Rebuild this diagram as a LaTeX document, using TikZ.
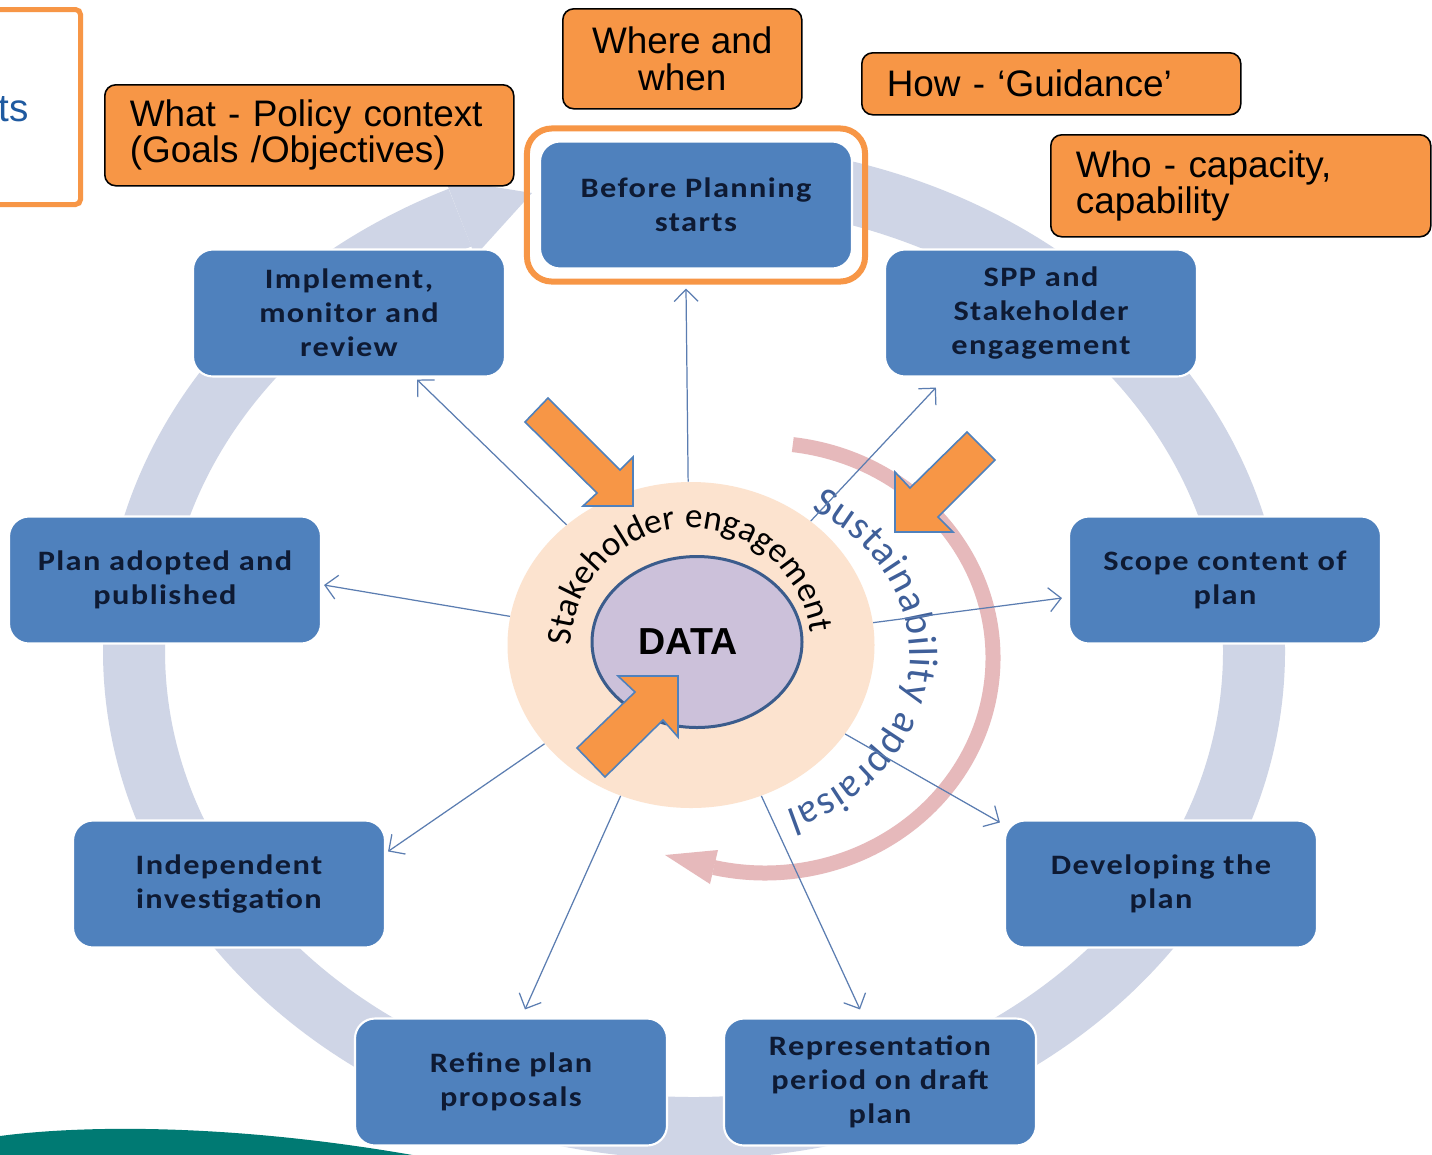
\documentclass[tikz,border=0pt]{standalone}
\usepackage{fontspec}
\setmainfont{Liberation Sans}
\newfontfamily\stagefont[FakeStretch=1.15,LetterSpace=5]{Carlito}
\newfontfamily\ringfont{Carlito}
\usetikzlibrary{arrows.meta,shapes.geometric,calc,fit,decorations.text}

\definecolor{stageblue}{HTML}{4F81BD}
\definecolor{stageink}{HTML}{0E1A33}
\definecolor{noteorange}{HTML}{F79646}
\definecolor{ringgray}{HTML}{CFD5E6}
\definecolor{linkblue}{HTML}{5B7DB1}
\definecolor{peach}{HTML}{FCE3CF}
\definecolor{datalilac}{HTML}{CCC1DA}
\definecolor{dataedge}{HTML}{3B5C8C}
\definecolor{sustblue}{HTML}{3F5F99}
\definecolor{cyclepink}{HTML}{E6B9BB}
\definecolor{wave}{HTML}{007A73}
\definecolor{cutblue}{HTML}{1F5AA0}

\begin{document}
\begin{tikzpicture}[
  x=0.2mm, y=-0.2mm,
  stage/.style={rectangle, rounded corners=0.4cm, fill=stageblue, draw=white, line width=1.2pt,
    minimum width=6.24cm, minimum height=2.54cm, align=center, text=stageink,
    font=\stagefont\bfseries\fontsize{16}{19.35}\selectfont},
  note/.style={rectangle, rounded corners=0.22cm, fill=noteorange, draw=black, line width=0.9pt,
    anchor=north west, align=left, inner xsep=0.5cm, font=\fontsize{21}{20.5}\selectfont},
  arrow/.style={-{Straight Barb[length=2.4mm, width=4.8mm]}, draw=linkblue, line width=0.7pt},
  pointer/.style={fill=noteorange, draw=stageblue, line width=0.9pt, line join=miter}
]

\fill[white] (0,0) rectangle (1432,1154);
\clip (0,0) rectangle (1432,1154);

% Cycle ring
\coordinate (ringc) at (694,651);
\draw[ringgray, line width=1.24cm] ($(ringc)+(-92:560 and 477)$)
  arc[start angle=-92, end angle=245.3, x radius=560, y radius=477];
\fill[ringgray] (445,179) -- (532,193) -- (475,256) -- cycle;

\fill[wave] (0,1160) -- (0,1136) .. controls (90,1124) and (250,1124) .. (440,1160) -- cycle;

% Appraisal loop
\coordinate (pinkc) at (765,658);
\draw[cyclepink, line width=0.3cm] ($(pinkc)+(-83:228 and 215)$)
  arc[start angle=-83, end angle=103, x radius=228, y radius=215];
\fill[cyclepink] (718,850) -- (665,855) -- (710,884) -- cycle;

% Centre
\node[ellipse, fill=peach, minimum width=7.34cm, minimum height=6.52cm] (hub) at (691,645) {};
\node[ellipse, fill=datalilac, draw=dataedge, line width=0.06cm, minimum width=4.2cm, minimum height=3.42cm,
  font=\bfseries\fontsize{21.4}{24}\selectfont] (data) at (697,642) {DATA\hspace*{0.36cm}};

\path[decorate, decoration={text along path, text align=fit to path,
  text={|\ringfont\fontsize{20}{22}\selectfont|Stakeholder engagement}}]
  ($(691,648)+(-179:120)$) arc[start angle=-179, end angle=-7, radius=120];
\path[decorate, decoration={text along path, text align=fit to path,
  text={|\ringfont\fontsize{23}{25}\selectfont\color{sustblue}|Sustainability appraisal}}]
  ($(712,655)+(-60:198 and 168)$) arc[start angle=-60, end angle=68, x radius=198, y radius=168];

% Nodes
\node[stage] (before) at (696,205) {Before Planning\\starts};
\node[stage] (spp) at (1041,313) {SPP and\\Stakeholder\\engagement};
\node[stage] (scope) at (1225,580) {Scope content of\\plan};
\node[stage] (develop) at (1161,884) {Developing the\\plan};
\node[stage] (repr) at (880,1082) {Representation\\period on draft\\plan};
\node[stage] (refine) at (511,1082) {Refine plan\\proposals};
\node[stage] (indep) at (229,884) {Independent\\investigation};
\node[stage] (adopted) at (165,580) {Plan adopted and\\published};
\node[stage] (implement) at (349,313) {Implement,\\monitor and\\review};
\node[draw=noteorange, line width=0.12cm, rounded corners=0.5cm, fit=(before), inner sep=0.24cm] (beforeframe) {};

% Arrows
\draw[arrow] (hub.91) -- ([shift={(-10,4)}]beforeframe.south);
\draw[arrow] (hub.46) -- ([shift={(52,10)}]spp.south west);
\draw[arrow] (hub.7) -- ([shift={(-6,18)}]scope.west);
\draw[arrow] (hub.330) -- ([shift={(-4,3)}]develop.north west);
\draw[arrow] (hub.295) -- ([shift={(-20,-8)}]repr.north);
\draw[arrow] (hub.245) -- ([shift={(14,-8)}]refine.north);
\draw[arrow] (hub.214) -- ([shift={(2,32)}]indep.north east);
\draw[arrow] (hub.171) -- ([shift={(2,5)}]adopted.east);
\draw[arrow] (hub.136) -- ([shift={(68,2)}]implement.south);

\draw[pointer] (548,398) -- (620,470) -- (633,457) -- (633,506) -- (583,506) -- (597,493) -- (525,422) -- cycle;
\draw[pointer] (967,432) -- (995,460) -- (938,517) -- (953,532) -- (895,532) -- (895,472) -- (910,488) -- cycle;
\draw[pointer] (678,676) -- (678,737) -- (663,720) -- (605,777) -- (577,748) -- (635,692) -- (618,676) -- cycle;

% Labels
\node[draw=noteorange, line width=0.1cm, rounded corners=0.1cm, minimum width=2.6cm, minimum height=3.9cm,
  anchor=north east] (side) at (83,7) {};
\node[anchor=base east, inner sep=0pt, text=cutblue, font=\fontsize{22}{24}\selectfont] (sidetext) at (29,121) {ts};
\node[note, minimum width=4.78cm, minimum height=2cm, align=center] (where) at (562,8) {Where and\\when};
\node[note, minimum height=1.24cm, text width=6.58cm] (how) at (861,52) {How - ‘Guidance’};
\node[note, minimum height=2.02cm, text width=7.18cm] (what) at (104,84) {What - Policy context\\(Goals /Objectives)};
\node[note, minimum height=2.04cm, text width=6.6cm] (who) at (1050,134) {Who - capacity,\\capability};

\end{tikzpicture}
\end{document}
